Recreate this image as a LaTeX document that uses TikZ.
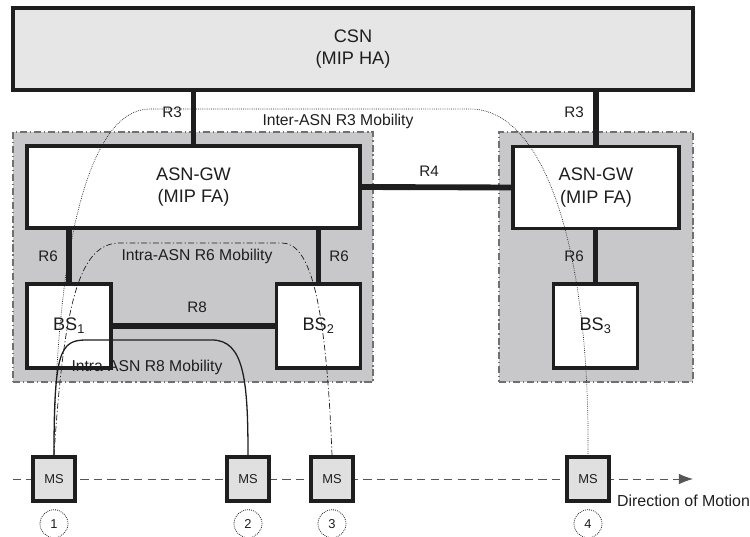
\documentclass[tikz,border=0pt]{standalone}
\usepackage{fontspec}
\setmainfont{Liberation Sans}
\usetikzlibrary{arrows.meta, positioning}

\definecolor{csnfill}{HTML}{E6E6E6}
\definecolor{asnfill}{HTML}{C8C8CA}
\definecolor{msfill}{HTML}{E0E0E0}
\definecolor{edge}{HTML}{1E1E1E}
\definecolor{asnedge}{HTML}{707070}

\begin{document}
\begin{tikzpicture}[
    x=0.03cm, y=-0.03cm,
    every node/.style={font=\fontsize{15.5}{19}\selectfont, align=center, text=edge},
    unit/.style={draw=edge, line width=2.8pt, fill=white, inner sep=0pt},
    gwbox/.style={unit, minimum height=2.46cm},
    bsbox/.style={unit, minimum width=2.52cm, minimum height=2.52cm},
    msbox/.style={unit, fill=msfill, minimum width=1.26cm, minimum height=1.32cm,
      font=\fontsize{11}{13}\selectfont},
    asnarea/.style={draw=asnedge, fill=asnfill, line width=1pt,
      dash pattern=on 6pt off 2.5pt on 1pt off 2.5pt, minimum height=7.5cm},
    link/.style={draw=edge, line width=5pt},
    ref/.style={font=\fontsize{13}{15}\selectfont},
    mobtext/.style={font=\fontsize{13.4}{15}\selectfont},
    stepnum/.style={circle, draw=edge, densely dotted, line width=0.7pt,
      minimum size=0.84cm, inner sep=0pt, font=\fontsize{11}{13}\selectfont},
    mobility/.style={draw=edge, line width=0.6pt},
    motion/.style={draw=edge!75, line width=0.8pt, dash pattern=on 7pt off 4.5pt},
    >={Latex[length=12pt, width=9pt]}
  ]
  \useasboundingbox (0,0) rectangle (750,537);

  % ── ASN areas and CSN ───────────────────────────────────────────────────
  \node[asnarea, minimum width=10.8cm] (asn1) at (193,257) {};
  \node[asnarea, minimum width=5.82cm] (asn2) at (596,257) {};
  \node[unit, fill=csnfill, minimum width=20.4cm, minimum height=2.46cm] (csn) at (353,49) {CSN\\(MIP HA)};

  % ── gateways and base stations ──────────────────────────────────────────
  \node[gwbox, minimum width=9.99cm] (gw1) at (193.5,187) {ASN-GW\\(MIP FA)};
  \node[gwbox, minimum width=4.98cm] (gw2) at (596,187.5) {ASN-GW\\(MIP FA)};
  \node[bsbox] (bs1) at (69,326) {BS\textsubscript{1}};
  \node[bsbox] (bs2) at (318.5,326) {BS\textsubscript{2}};
  \node[bsbox] (bs3) at (595.5,326) {BS\textsubscript{3}};

  % ── reference points ────────────────────────────────────────────────────
  \draw[link] (gw1.north) -- (gw1.north |- csn.south);
  \draw[link] (gw2.north) -- (gw2.north |- csn.south);
  \draw[link] (gw1.east) -- (gw2.west);
  \draw[link] (bs1.north) -- (bs1.north |- gw1.south);
  \draw[link] (bs2.north) -- (bs2.north |- gw1.south);
  \draw[link] (bs3.north) -- (bs3.north |- gw2.south);
  \draw[link] (bs1.east) -- (bs2.west);
  \node[ref] (r3a) at (172,112) {R3};
  \node[ref] (r3b) at (574,112) {R3};
  \node[ref] (r4) at (429,171) {R4};
  \node[ref] (r6a) at (48,256) {R6};
  \node[ref] (r6b) at (339,256) {R6};
  \node[ref] (r6c) at (574,256) {R6};
  \node[ref] (r8) at (197,307) {R8};

  % ── direction of motion ─────────────────────────────────────────────────
  \coordinate (mstart) at (13,479);
  \coordinate (mend) at (693,479);
  \draw[motion, ->] (mstart) -- (mend);
  \node[mobtext, anchor=west, font=\fontsize{13.6}{15}\selectfont] (dir) at (613,501) {Direction of Motion};

  \node[msbox] (ms1) at (54,479) {MS};
  \node[msbox] (ms2) at (248,479) {MS};
  \node[msbox] (ms3) at (332,479) {MS};
  \node[msbox] (ms4) at (588,479) {MS};
  \node[stepnum, below=0.2cm of ms1] (n1) {1};
  \node[stepnum, below=0.2cm of ms2] (n2) {2};
  \node[stepnum, below=0.2cm of ms3] (n3) {3};
  \node[stepnum, below=0.2cm of ms4] (n4) {4};

  % ── mobility paths ──────────────────────────────────────────────────────
  % inter-ASN: MS 1 -> MS 4 over the CSN
  \draw[mobility, densely dotted] (ms1.north) .. controls (56,250) and (88,109) .. (150,109)
    -- (470,109) .. controls (545,109) and (590,250) .. (ms4.north);
  \node[mobtext] (m3) at (338,121) {Inter-ASN R3 Mobility};

  % intra-ASN R6: MS 1 -> MS 3 over the gateway
  \draw[mobility, dash pattern=on 5pt off 2pt on 1pt off 2pt] (ms1.north) .. controls (64,300) and (80,243) .. (120,243)
    -- (282,243) .. controls (310,243) and (326,300) .. (ms3.north);
  \node[mobtext] (m6) at (197,256) {Intra-ASN R6 Mobility};

  % intra-ASN R8: MS 1 -> MS 2 between the base stations
  \draw[mobility, line width=1.1pt] (ms1.north) .. controls (54,352) and (60,340) .. (86,340)
    -- (212,340) .. controls (244,340) and (248,380) .. (ms2.north);
  \node[mobtext] (m8) at (147,367) {Intra-ASN R8 Mobility};

\end{tikzpicture}
\end{document}
